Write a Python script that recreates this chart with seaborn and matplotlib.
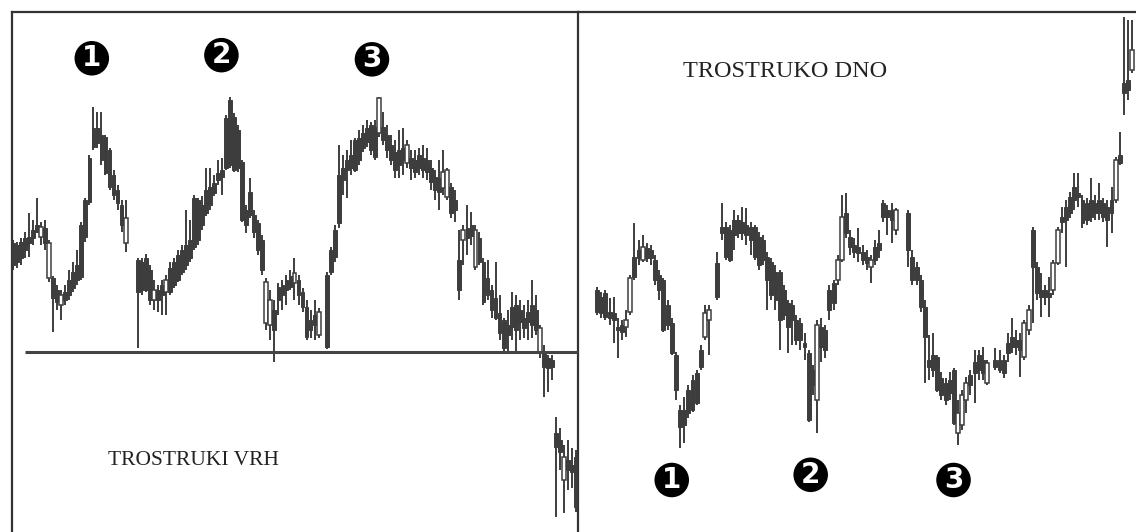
import matplotlib
matplotlib.use("Agg")
import matplotlib.pyplot as plt
import seaborn as sns
import numpy as np

# ---- left panel: triple top (trostruki vrh) ----
vrh_open = [289, 287, 290, 294, 295, 302, 307, 295, 304, 254, 254, 242, 227, 240, 252, 260, 267, 307, 332, 374,
            404, 404, 397, 395, 382, 357, 342, 327, 289, 272, 270, 274, 262, 232, 242, 247, 240, 264, 270, 277,
            282, 287, 292, 334, 332, 327, 342, 345, 349, 359, 362, 414, 432, 415, 402, 370, 322, 340, 317, 309,
            292, 209, 207, 222, 245, 247, 252, 256, 249, 252, 240, 225, 212, 217, 197, 257, 282, 302, 357, 364,
            372, 377, 392, 394, 399, 404, 407, 405, 399, 405, 397, 387, 380, 382, 384, 369, 374, 372, 377, 374,
            372, 364, 355, 354, 344, 335, 345, 332, 272, 292, 304, 307, 265, 294, 270, 254, 242, 234, 219, 212,
            207, 225, 227, 222, 214, 220, 227, 222, 179, 179, 174, 172, 99, 92, 52, 72, 67, 75]
vrh_high = [292, 290, 294, 300, 319, 312, 334, 310, 312, 292, 256, 247, 242, 247, 262, 270, 282, 310, 334, 377,
            425, 420, 420, 397, 384, 362, 347, 332, 332, 274, 274, 278, 267, 252, 247, 252, 257, 270, 274, 282,
            287, 322, 312, 337, 334, 336, 364, 364, 357, 372, 374, 417, 435, 419, 407, 372, 327, 354, 322, 312,
            297, 254, 242, 232, 249, 252, 257, 262, 274, 257, 244, 232, 222, 232, 224, 260, 285, 307, 387, 377,
            382, 392, 394, 402, 407, 412, 410, 412, 435, 420, 407, 397, 392, 402, 404, 392, 382, 382, 384, 387,
            384, 372, 362, 372, 382, 364, 349, 342, 302, 307, 327, 320, 307, 300, 274, 272, 247, 270, 237, 214,
            222, 240, 237, 232, 227, 232, 252, 237, 207, 187, 177, 177, 115, 104, 87, 92, 84, 82]
vrh_low = [262, 264, 267, 274, 275, 287, 300, 287, 282, 250, 200, 222, 212, 227, 232, 240, 247, 252, 290, 327,
           382, 384, 367, 357, 342, 332, 322, 300, 280, 184, 237, 240, 227, 222, 220, 217, 217, 237, 244, 250,
           257, 262, 270, 282, 287, 302, 316, 322, 336, 347, 337, 362, 364, 360, 360, 310, 299, 314, 294, 277,
           257, 202, 192, 170, 217, 222, 227, 242, 232, 227, 220, 192, 194, 192, 194, 183, 257, 270, 304, 337,
           334, 357, 360, 367, 380, 385, 377, 372, 395, 387, 374, 367, 354, 354, 357, 364, 352, 354, 357, 354,
           352, 342, 332, 322, 337, 332, 314, 310, 232, 267, 277, 287, 262, 267, 227, 232, 214, 212, 192, 180,
           180, 192, 180, 192, 194, 192, 194, 197, 174, 135, 140, 152, 15, 62, 19, 42, 44, 20]
vrh_close = [267, 270, 274, 282, 289, 294, 300, 305, 289, 289, 234, 230, 237, 232, 237, 244, 252, 255, 295, 330,
             385, 389, 372, 359, 345, 337, 329, 307, 314, 240, 242, 242, 232, 242, 232, 237, 252, 240, 247, 252,
             260, 267, 274, 285, 292, 307, 319, 327, 339, 352, 355, 364, 367, 362, 364, 312, 307, 317, 300, 282,
             262, 250, 232, 202, 232, 237, 242, 245, 259, 237, 225, 195, 202, 207, 220, 185, 260, 275, 309, 352,
             362, 364, 362, 372, 384, 390, 382, 375, 434, 392, 382, 372, 362, 367, 372, 387, 364, 360, 364, 362,
             360, 350, 342, 340, 360, 362, 319, 322, 242, 302, 294, 296, 302, 270, 230, 237, 222, 214, 199, 184,
             197, 205, 202, 210, 204, 210, 207, 202, 204, 165, 164, 165, 85, 80, 75, 62, 60, 25]
vrh_days = list(range(0, 29)) + list(range(31, 77)) + list(range(78, 141))
vrh_support = 180

# ---- right panel: triple bottom (trostruko dno) ----
dno_open = [242, 235, 239, 220, 219, 205, 207, 205, 220, 275, 282, 272, 284, 282, 272, 257, 252, 227, 209, 177,
            122, 122, 142, 152, 159, 182, 195, 212, 269, 305, 305, 302, 312, 312, 310, 307, 305, 305, 295, 292,
            275, 270, 260, 260, 242, 229, 227, 212, 209, 189, 179, 162, 132, 205, 202, 242, 249, 252, 272, 319,
            295, 287, 285, 280, 275, 265, 285, 289, 329, 322, 322, 302, 319, 275, 265, 252, 225, 172, 177, 175,
            154, 149, 152, 162, 99, 107, 132, 157, 170, 177, 172, 149, 172, 172, 172, 189, 195, 192, 192, 175,
            202, 302, 265, 242, 242, 239, 242, 269, 315, 325, 335, 345, 339, 332, 329, 332, 329, 332, 329, 325,
            332, 332, 377, 449, 452, 462]
dno_high = [245, 240, 242, 234, 235, 214, 212, 222, 257, 309, 292, 297, 289, 287, 277, 262, 254, 232, 214, 180,
            127, 135, 147, 157, 162, 187, 227, 227, 280, 329, 310, 307, 322, 317, 325, 324, 310, 307, 300, 297,
            280, 274, 267, 262, 247, 232, 232, 217, 214, 199, 182, 167, 212, 214, 207, 247, 252, 277, 337, 339,
            302, 294, 304, 287, 282, 277, 292, 302, 332, 327, 329, 324, 322, 282, 270, 257, 232, 197, 199, 177,
            160, 154, 160, 164, 132, 142, 155, 162, 182, 182, 185, 172, 184, 182, 177, 199, 214, 202, 199, 212,
            227, 305, 270, 259, 247, 255, 272, 305, 325, 332, 340, 359, 359, 337, 334, 354, 337, 349, 334, 332,
            345, 375, 400, 515, 512, 512]
dno_low = [217, 214, 212, 207, 189, 174, 192, 195, 217, 252, 267, 270, 270, 267, 247, 232, 200, 202, 177, 132,
           84, 89, 114, 120, 127, 162, 192, 177, 232, 292, 272, 270, 282, 294, 292, 287, 277, 272, 262, 267,
           222, 232, 222, 182, 212, 179, 187, 187, 182, 172, 110, 137, 99, 170, 174, 212, 222, 247, 270, 294,
           277, 274, 270, 267, 262, 249, 267, 274, 310, 297, 289, 297, 265, 247, 247, 220, 149, 152, 155, 140,
           132, 127, 132, 107, 87, 102, 119, 137, 129, 152, 152, 147, 162, 159, 154, 170, 179, 177, 155, 172,
           197, 209, 232, 215, 227, 215, 237, 267, 299, 265, 314, 322, 325, 304, 307, 310, 312, 312, 310, 285,
           299, 329, 367, 417, 432, 459]
dno_close = [220, 219, 215, 214, 212, 202, 200, 212, 254, 255, 274, 285, 274, 274, 252, 242, 202, 207, 179, 142,
             105, 107, 119, 122, 129, 165, 219, 222, 235, 299, 275, 272, 297, 299, 299, 297, 292, 275, 267, 272,
             252, 237, 232, 212, 217, 205, 212, 192, 192, 185, 112, 147, 207, 185, 182, 222, 229, 272, 315, 299,
             285, 280, 279, 272, 269, 272, 272, 282, 315, 315, 312, 322, 282, 252, 252, 225, 195, 165, 162, 142,
             137, 132, 139, 109, 119, 137, 149, 147, 159, 162, 159, 169, 165, 162, 159, 179, 185, 185, 182, 209,
             222, 265, 239, 235, 235, 235, 269, 302, 310, 312, 319, 332, 335, 309, 312, 315, 319, 319, 315, 312,
             319, 372, 369, 439, 442, 482]
dno_days = list(range(0, 28)) + list(range(29, 73)) + list(range(75, 95)) + list(range(96, 130))

INK = "#3d3d3d"

sns.set_theme(style="white")
plt.rcParams["font.family"] = ["Liberation Serif", "DejaVu Serif"]

fig = plt.figure(figsize=(11.36, 5.32), dpi=100)
W, H = 1136.0, 532.0
ax_l = fig.add_axes([12 / W, 0, 566 / W, 520 / H])
ax_r = fig.add_axes([578 / W, 0, 558 / W, 520 / H])


def candles(ax, days, o, h, l, c):
    days = np.asarray(days)
    o, h, l, c = map(np.asarray, (o, h, l, c))
    up = c > o
    ax.vlines(days, l, h, color=INK, lw=1.4, zorder=2)
    lo = np.minimum(o, c)
    ht = np.maximum(np.abs(c - o), 2)
    ax.bar(days[~up], ht[~up], bottom=lo[~up], width=0.95, color=INK,
           edgecolor=INK, lw=0.7, zorder=3)
    ax.bar(days[up], ht[up], bottom=lo[up], width=0.95, color="white",
           edgecolor=INK, lw=1.1, zorder=3)


candles(ax_l, vrh_days, vrh_open, vrh_high, vrh_low, vrh_close)
candles(ax_r, dno_days, dno_open, dno_high, dno_low, dno_close)

ax_l.hlines(vrh_support, 3, 141, color="#444444", lw=2.2, zorder=4)

ax_l.set_xlim(-0.25, 140.5)
ax_r.set_xlim(-4.6, 129.9)
for ax in (ax_l, ax_r):
    ax.set_ylim(0, 520)
    ax.set_xticks([])
    ax.set_yticks([])
    for side in ("top", "left", "right"):
        ax.spines[side].set_color("#333333")
        ax.spines[side].set_linewidth(1.6)
    ax.spines["bottom"].set_visible(False)
ax_r.set_facecolor("none")
ax_r.spines["left"].set_visible(False)
ax_r.spines["right"].set_visible(False)

# numbered markers
circ = dict(boxstyle="circle,pad=0.08", fc="black", ec="black", lw=1.5)
marks = ((ax_l, [0.141, 0.370, 0.636], [0.911, 0.917, 0.909]),
         (ax_r, [0.168, 0.417, 0.673], [0.100, 0.110, 0.100]))
for ax, xs, ys in marks:
    for k, (xp, yp) in enumerate(zip(xs, ys)):
        ax.text(xp, yp, str(k + 1), transform=ax.transAxes, ha="center", va="center",
                color="white", fontsize=20, fontweight="bold",
                family="DejaVu Sans", bbox=circ, zorder=6)

ax_l.text(0.32, 0.138, "TROSTRUKI VRH", transform=ax_l.transAxes, ha="center", va="center",
          fontsize=15.5, color="#222222")
ax_r.text(0.371, 0.885, "TROSTRUKO DNO", transform=ax_r.transAxes, ha="center", va="center",
          fontsize=17.5, color="#222222")

fig.savefig("out.png", dpi=100, facecolor="white")
